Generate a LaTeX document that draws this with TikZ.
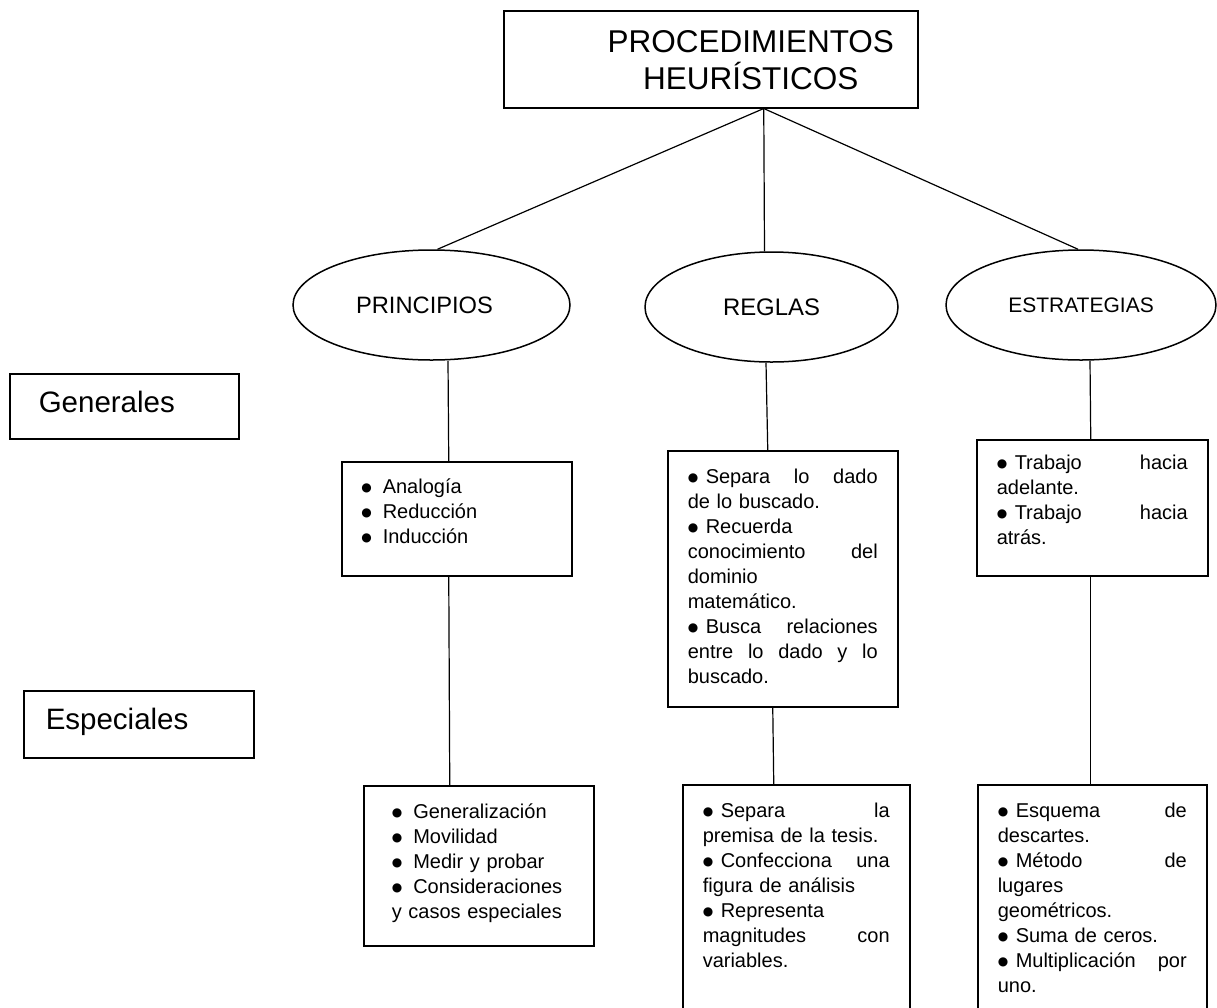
\documentclass[tikz,border=0pt]{standalone}
\usepackage{fontspec}
\setmainfont{Liberation Sans}
\newfontfamily\dvs{DejaVu Sans}
\usetikzlibrary{shapes.geometric}
\newcommand{\dotb}{\raisebox{2.1pt}{\dvs\fontsize{12}{10}\selectfont ●}}
\newcommand{\blt}{\makebox[18pt][l]{\dotb}}
\newcommand{\bltw}{\makebox[21.5pt][l]{\dotb}}
\newcommand{\jl}[1]{\leavevmode\hbox to \hsize{\spaceskip=0.278em plus 10em\relax #1}}
\begin{document}
\begin{tikzpicture}[x=1pt,y=-1pt,
  shapebox/.style={draw, line width=1.5pt, rectangle, anchor=north west, inner ysep=0pt, align=left, font=\fontsize{20}{25}\selectfont},
  oval/.style={draw, line width=1.5pt, ellipse, inner sep=0pt, minimum height=110pt},
  conn/.style={line width=1.2pt}]
\useasboundingbox (0,0) rectangle (1217,1007);
\clip (0,0) rectangle (1217,1007);

% title
\node[draw, line width=1.5pt, anchor=north west, inner sep=0pt, text width=414pt, align=center,
      text height=42pt, text depth=55pt, font=\fontsize{31.5}{37}\selectfont]
  (top) at (503,10) {\hspace*{80pt}PROCEDIMIENTOS\\\hspace*{80pt}HEURÍSTICOS};

% side labels
\node[shapebox, font=\fontsize{29.5}{35}\selectfont, inner xsep=29pt, text width=171pt,
      text height=39pt, text depth=26pt] (gen) at (9,373) {Generales};
\node[shapebox, font=\fontsize{29.5}{35}\selectfont, inner xsep=22pt, text width=186pt,
      text height=39pt, text depth=28pt] (esp) at (23,690) {Especiales};

% ellipses
\node[oval, minimum width=277pt, font=\fontsize{23.7}{28}\selectfont] (prin) at (431.5,305) {\hspace*{-14pt}PRINCIPIOS};
\node[oval, minimum width=253pt, font=\fontsize{23.9}{28}\selectfont] (reg) at (771.5,307) {REGLAS};
\node[oval, minimum width=270pt, font=\fontsize{21}{25}\selectfont] (estr) at (1081,305) {ESTRATEGIAS};

% general boxes
\node[shapebox, inner xsep=19.5pt, text width=191pt, text height=32pt, text depth=82pt]
  (anal) at (341,461) {\bltw Analogía\\\bltw Reducción\\\bltw Inducción};
\node[shapebox, inner xsep=20pt, text width=190pt, text height=33pt, text depth=223pt]
  (rbox) at (667,450) {\jl{\blt Separa lo dado}\\de lo buscado.\\\blt Recuerda\\\jl{conocimiento del}\\dominio\\matemático.\\\jl{\blt Busca relaciones}\\\jl{entre lo dado y lo}\\buscado.};
\node[shapebox, inner xsep=20pt, text width=191pt, text height=30pt, text depth=106pt]
  (ebox) at (976,439) {\jl{\blt Trabajo hacia}\\adelante.\\\jl{\blt Trabajo hacia}\\atrás.};

% special boxes
\node[shapebox, inner xsep=28pt, text width=174pt, text height=33pt, text depth=127pt]
  (lbox) at (363,785) {\bltw Generalización\\\bltw Movilidad\\\bltw Medir y probar\\\bltw Consideraciones\\y casos especiales};
\node[shapebox, inner xsep=20pt, text width=187pt, text height=33pt, text depth=198pt]
  (mbox) at (682,784) {\jl{\blt Separa la}\\premisa de la tesis.\\\jl{\blt Confecciona una}\\figura de análisis\\\blt Representa\\\jl{magnitudes con}\\variables.};
\node[shapebox, inner xsep=20pt, text width=189pt, text height=33pt, text depth=198pt]
  (qbox) at (977,784) {\jl{\blt Esquema de}\\descartes.\\\jl{\blt Método de}\\lugares\\geométricos.\\\blt Suma de ceros.\\\jl{\blt Multiplicación por}\\uno.};

% connectors
\draw[conn] ([xshift=53pt]top.south) -- ([xshift=6pt]prin.north);
\draw[conn] ([xshift=53pt]top.south) -- ([xshift=-7pt]reg.north);
\draw[conn] ([xshift=53pt]top.south) -- ([xshift=-3pt]estr.north);

\draw[conn] ([xshift=16.5pt]prin.south) -- ([xshift=-8pt]anal.north);
\draw[conn] ([xshift=-8pt]anal.south) -- ([xshift=-29pt]lbox.north);
\draw[conn] ([xshift=-5.5pt]reg.south) -- ([xshift=-15pt]rbox.north);
\draw[conn] ([xshift=-10pt]rbox.south) -- ([xshift=-22.5pt]mbox.north);
\draw[conn] ([xshift=9pt]estr.south) -- ([xshift=-1.5pt]ebox.north);
\draw[conn] ([xshift=-1.5pt]ebox.south) -- ([xshift=-1.5pt]qbox.north);
\end{tikzpicture}
\end{document}
